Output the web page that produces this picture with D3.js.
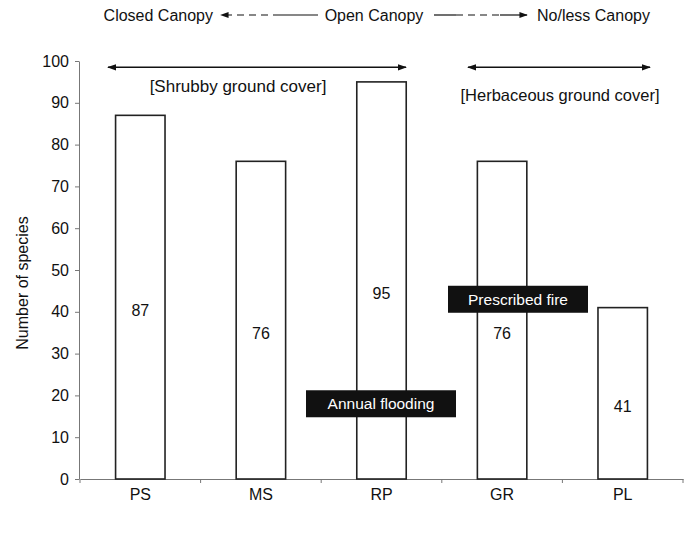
<!DOCTYPE html>
<html><head><meta charset="utf-8">
<script src="https://cdn.jsdelivr.net/npm/d3@7"></script>
<style>body{margin:0;background:#fff}svg{display:block}text{font-family:"Liberation Sans",Arial,sans-serif;fill:#111}</style>
</head><body>
<svg id="c" width="687" height="538"></svg>
<script>
const categories = ["PS","MS","RP","GR","PL"];
const values = [87,76,95,76,41];
const yTicks = [0,10,20,30,40,50,60,70,80,90,100];
const yLabel = "Number of species";
const headerLabels = ["Closed Canopy","Open Canopy","No/less Canopy"];
const groupLabels = ["[Shrubby ground cover]","[Herbaceous ground cover]"];
const boxLabels = ["Annual flooding","Prescribed fire"];

const svg = d3.select("#c");
const W=687,H=538;
const m={left:79,right:4,top:61,bottom:59};
const x = d3.scaleBand().domain(categories).range([m.left+1,683]).padding(0);
const y = d3.scaleLinear().domain([0,100]).range([H-m.bottom,m.top]);
const FS=16;

const defs=svg.append("defs");
defs.append("marker").attr("id","ah").attr("viewBox","0 0 10 10").attr("refX",9).attr("refY",5)
 .attr("markerWidth",7).attr("markerHeight",7).attr("orient","auto-start-reverse")
 .append("path").attr("d","M0,1.5L10,5L0,8.5Z").attr("fill","#111");

// y axis
const ya = svg.append("g").attr("transform",`translate(${m.left},0)`)
 .call(d3.axisLeft(y).tickValues(yTicks).tickSize(4).tickSizeOuter(0));
ya.select(".domain").attr("stroke","#777");
ya.selectAll(".tick line").attr("stroke","#777");
ya.selectAll(".tick text").attr("font-size",FS).attr("x",-10).style("font-family","Liberation Sans, Arial").attr("fill","#111");

// x axis
const xa = svg.append("g").attr("transform",`translate(0,${y(0)})`)
 .call(d3.axisBottom(x).tickSize(0).tickSizeOuter(0));
xa.select(".domain").attr("stroke","#777");
xa.selectAll(".tick text").attr("font-size",FS).attr("dy","1.15em").style("font-family","Liberation Sans, Arial").attr("fill","#111");
const bounds = categories.map(c=>x(c)).concat([x(categories[categories.length-1])+x.bandwidth()]);
svg.append("g").selectAll("line").data(bounds).join("line")
 .attr("x1",d=>d).attr("x2",d=>d).attr("y1",y(0)).attr("y2",y(0)+4).attr("stroke","#777");

// bars
const bw = x.bandwidth()*0.41;
svg.append("g").selectAll("rect").data(values).join("rect")
 .attr("x",(d,i)=>x(categories[i])+x.bandwidth()/2-bw/2)
 .attr("y",d=>y(d)).attr("width",bw).attr("height",d=>y(0)-y(d))
 .attr("fill","#fff").attr("stroke","#222").attr("stroke-width",1.6);
svg.append("g").selectAll("text").data(values).join("text")
 .attr("x",(d,i)=>x(categories[i])+x.bandwidth()/2)
 .attr("y",d=>y(d/2)+19).attr("text-anchor","middle").attr("font-size",FS).text(d=>d);

// y label
svg.append("text").attr("transform",`translate(28,${(y(0)+y(100))/2+13}) rotate(-90)`)
 .attr("text-anchor","middle").attr("font-size",FS).text(yLabel);

// header
const hy=21, ay0=hy-6;
svg.append("text").attr("x",213).attr("y",hy).attr("text-anchor","end").attr("font-size",FS).text(headerLabels[0]);
svg.append("text").attr("x",374).attr("y",hy).attr("text-anchor","middle").attr("font-size",FS).text(headerLabels[1]);
svg.append("text").attr("x",537).attr("y",hy).attr("font-size",FS).text(headerLabels[2]);
svg.append("line").attr("x1",280).attr("x2",221).attr("y1",ay0).attr("y2",ay0).attr("stroke","#111").attr("stroke-width",1.2).attr("stroke-dasharray","7,5").attr("marker-end","url(#ah)");
svg.append("line").attr("x1",318).attr("x2",280).attr("y1",ay0).attr("y2",ay0).attr("stroke","#111").attr("stroke-width",1.2);
svg.append("line").attr("x1",434).attr("x2",456).attr("y1",ay0).attr("y2",ay0).attr("stroke","#111").attr("stroke-width",1.2);
svg.append("line").attr("x1",456).attr("x2",500).attr("y1",ay0).attr("y2",ay0).attr("stroke","#111").attr("stroke-width",1.2).attr("stroke-dasharray","7,5");
svg.append("line").attr("x1",500).attr("x2",527).attr("y1",ay0).attr("y2",ay0).attr("stroke","#111").attr("stroke-width",1.2).attr("marker-end","url(#ah)");

// group arrows
const ay=y(98.5);
svg.append("line").attr("x1",108).attr("x2",406).attr("y1",ay).attr("y2",ay).attr("stroke","#111").attr("stroke-width",1.3)
 .attr("marker-start","url(#ah)").attr("marker-end","url(#ah)");
svg.append("line").attr("x1",468).attr("x2",650).attr("y1",ay).attr("y2",ay).attr("stroke","#111").attr("stroke-width",1.3)
 .attr("marker-start","url(#ah)").attr("marker-end","url(#ah)");
svg.append("text").attr("x",238).attr("y",y(93)+2).attr("text-anchor","middle").attr("font-size",17).text(groupLabels[0]);
svg.append("text").attr("x",560).attr("y",y(91)+2).attr("text-anchor","middle").attr("font-size",16.5).text(groupLabels[1]);

// black boxes
function box(cx,cy,w,h,t){
 svg.append("rect").attr("x",cx-w/2).attr("y",cy-h/2).attr("width",w).attr("height",h).attr("fill","#111");
 svg.append("text").attr("x",cx).attr("y",cy+5.5).attr("text-anchor","middle").attr("font-size",15.5).style("fill","#fff").text(t);
}
box(381,y(18),150,27,boxLabels[0]);
box(518,y(43),140,27,boxLabels[1]);
</script>
</body></html>
